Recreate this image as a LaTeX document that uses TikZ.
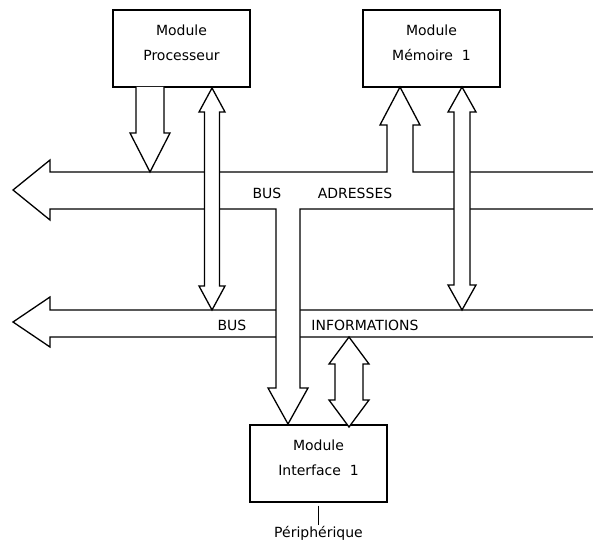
\documentclass[tikz,border=0pt]{standalone}
\usepackage{fontspec}
\setmainfont{DejaVu Sans}
\usetikzlibrary{positioning}

% hollow double-headed block arrow: x, top tip, bottom tip, shaft half width, head half width, head length
\newcommand{\dblarrow}[6]{%
  \draw[bus] (#1,#2) -- (#1+#5,#2+#6) -- (#1+#4,#2+#6) -- (#1+#4,#3-#6) -- (#1+#5,#3-#6)
    -- (#1,#3) -- (#1-#5,#3-#6) -- (#1-#4,#3-#6) -- (#1-#4,#2+#6) -- (#1-#5,#2+#6) -- cycle;}

\tikzset{
  module/.style={draw, line width=1.3pt, minimum width=137pt, minimum height=77pt, inner sep=0pt},
  bus/.style={draw, line width=1.3pt, fill=white, line join=miter},
  legend/.style={font=\fontsize{14}{17}\selectfont, inner sep=1pt, align=center}
}

\begin{document}
\begin{tikzpicture}[x=1pt, y=-1pt]
  \useasboundingbox (0,0) rectangle (593,540);

  % modules
  \node[module] (proc)  at (181.5,48.5)  {};
  \node[module] (mem)   at (431.5,48.5)  {};
  \node[module] (iface) at (318.5,463.5) {};
  \node[legend] (proc-txt)  at ([yshift=6pt]proc.center)  {Module\\[8pt]Processeur};
  \node[legend] (mem-txt)   at ([yshift=6pt]mem.center)   {Module\\[8pt]Mémoire\ \ 1};
  \node[legend] (iface-txt) at ([yshift=6pt]iface.center) {Module\\[8pt]Interface\ \ 1};

  \node[legend] (periph) [below=22pt of iface] {Périphérique};
  \draw[line width=1pt] ([yshift=-3pt]iface.south -| periph.north) -- (periph.north);

  % bus informations
  \draw[bus] (593,310) -- (50,310) -- (50,297) -- (13,322) -- (50,347) -- (50,337) -- (593,337);

  % bus adresses, with the branch to the memory and the one down to the interface
  \draw[bus] (593,172) -- (413,172) -- (413,125) -- (420,125) -- (400,87) -- (380,125)
    -- (387,125) -- (387,172) -- (50,172) -- (50,160) -- (13,190) -- (50,220) -- (50,209)
    -- (276,209) -- (276,388) -- (268,388) -- (288,424) -- (308,388) -- (300,388)
    -- (300,209) -- (593,209);

  % processor -> adresses
  \draw[bus] (136,87) -- (136,133) -- (130,133) -- (150,172) -- (170,133) -- (164,133) -- (164,87);

  % data paths
  \dblarrow{212}{88}{310}{7.5}{13}{24}
  \dblarrow{462}{87}{310}{8}{14}{25}
  \dblarrow{349}{337}{427}{14}{20}{27}

  \node[legend] (busA) at (267,193) {BUS};
  \node[legend] (adr)  at (355,193) {ADRESSES};
  \node[legend] (busI) at (232,325) {BUS};
  \node[legend] (info) at (365,325) {INFORMATIONS};
\end{tikzpicture}
\end{document}
